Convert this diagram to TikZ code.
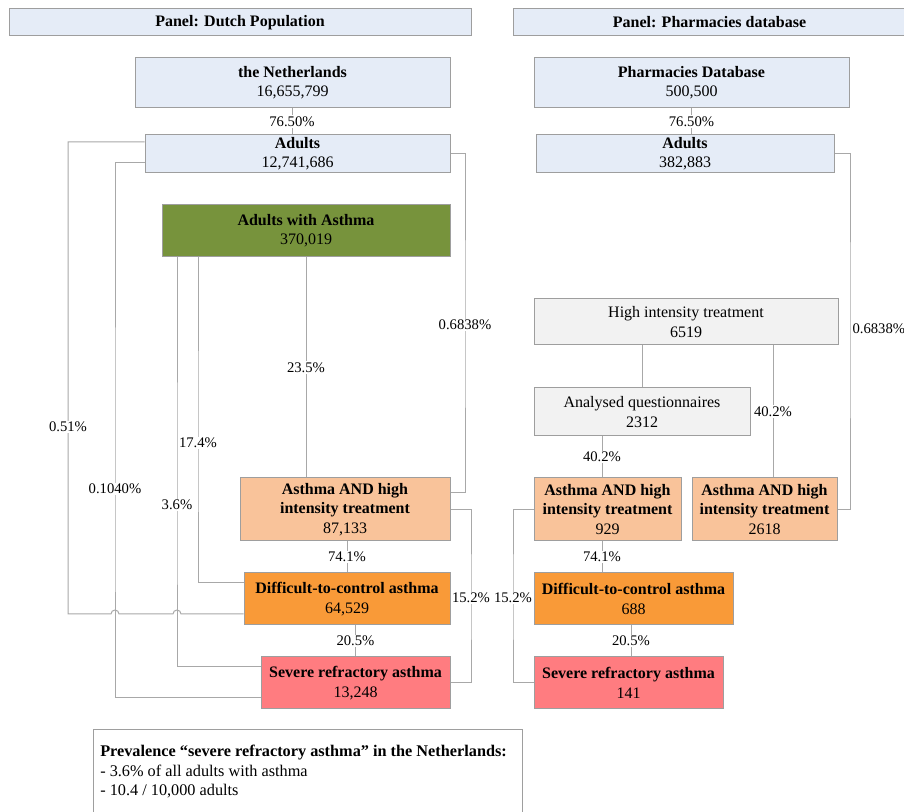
\documentclass[tikz,border=0pt]{standalone}
\usepackage{fontspec}
\setmainfont{Liberation Serif}
\usepackage{xcolor}
\usepackage{tikz}
\definecolor{popblue}{HTML}{E5ECF7}
\definecolor{framegray}{HTML}{9E9E9E}
\definecolor{linkgray}{HTML}{A8A8A8}
\definecolor{asthmagreen}{HTML}{77933C}
\definecolor{treatpeach}{HTML}{F9C39A}
\definecolor{difforange}{HTML}{F99A38}
\definecolor{severered}{HTML}{FF7C80}
\definecolor{querygray}{HTML}{F2F2F2}
\tikzset{
  boxnode/.style 2 args={rectangle,draw=framegray,line width=0.75pt,
    align=center,inner sep=1pt,minimum width=#1*0.75pt,
    minimum height=#2*0.75pt,font=\fontsize{12}{14.5}\selectfont},
  headnode/.style 2 args={boxnode={#1}{#2},fill=popblue},
  popnode/.style 2 args={boxnode={#1}{#2},fill=popblue},
  asthmanode/.style 2 args={boxnode={#1}{#2},fill=asthmagreen},
  treatnode/.style 2 args={boxnode={#1}{#2},fill=treatpeach},
  difficultnode/.style 2 args={boxnode={#1}{#2},fill=difforange},
  severenode/.style 2 args={boxnode={#1}{#2},fill=severered},
  querynode/.style 2 args={boxnode={#1}{#2},fill=querygray},
  link/.style={draw=linkgray,line width=0.75pt},
  ratelabel/.style={fill=white,inner sep=1pt,font=\fontsize{11}{13}\selectfont},
  prevframe/.style={rectangle,draw=framegray,line width=0.75pt,
    minimum width=429*0.75pt,minimum height=110*0.75pt},
  prevtext/.style={align=left,inner sep=0pt,font=\fontsize{12.2}{14.6}\selectfont}
}

\begin{document}
\begin{tikzpicture}[x=0.75pt,y=-0.75pt]
  \useasboundingbox (0,0) rectangle (904,812);

  \node[headnode={462}{27}] (hdrL) at (240,22.5) {\textbf{Panel: Dutch Population}};
  \node[headnode={393}{27}] (hdrR) at (709.5,22.5) {\textbf{Panel: Pharmacies database}};

  \node[popnode={315}{50}] (nl) at (292.5,83) {\textbf{the Netherlands}\\16,655,799};
  \node[popnode={305}{38}] (adL) at (297.5,154) {\textbf{Adults}\\12,741,686};
  \node[asthmanode={288}{52}] (asth) at (306,231) {\textbf{Adults with Asthma}\\370,019};
  \node[treatnode={210}{63}] (ahL) at (345,509.5)
    {\textbf{Asthma AND high}\\\textbf{intensity treatment}\\87,133};
  \node[difficultnode={206}{52}] (dcL) at (347,599) {\textbf{Difficult-to-control asthma}\\64,529};
  \node[severenode={189}{52}] (srL) at (355.5,683) {\textbf{Severe refractory asthma}\\13,248};

  \node[popnode={315}{50}] (pdb) at (691.5,83) {\textbf{Pharmacies Database}\\500,500};
  \node[popnode={298}{38}] (adR) at (685,154) {\textbf{Adults}\\382,883};
  \node[querynode={304}{46}] (hit) at (686,322) {High intensity treatment\\6519};
  \node[querynode={216}{48}] (aq) at (642,412) {Analysed questionnaires\\2312};
  \node[treatnode={147}{63}] (ahR) at (607.5,509.5)
    {\textbf{Asthma AND high}\\\textbf{intensity treatment}\\929};
  \node[treatnode={145}{63}] (ahRb) at (764.5,509.5)
    {\textbf{Asthma AND high}\\\textbf{intensity treatment}\\2618};
  \node[difficultnode={199}{52}] (dcR) at (633.5,599) {\textbf{Difficult-to-control asthma}\\688};
  \node[severenode={189}{52}] (srR) at (628.5,683) {\textbf{Severe refractory asthma}\\141};

  \node[prevframe,anchor=north west] (prevbox) at (93,729) {};
  \node[prevtext,anchor=north west] (prevtxt) at (100,745)
    {\textbf{Prevalence “severe refractory asthma” in the Netherlands:}\\
     - 3.6\% of all adults with asthma\\
     - 10.4 / 10,000 adults};

  \draw[link] (nl.south -| 292,0) -- node[ratelabel]{76.50\%} (adL.north -| 292,0);
  \draw[link] (pdb.south) -- node[ratelabel]{76.50\%} (pdb.south |- adR.north);

  \draw[link] (adL.west |- 0,142) -| (68,427) node[ratelabel]{0.51\%}
    -- (68,614) -- (111,614) arc[start angle=180,end angle=0,radius=3pt]
    -- (173,614) arc[start angle=180,end angle=0,radius=3pt]
    -- (dcL.west |- 0,614);
  \draw[link] (adL.west |- 0,163) -| (115,489) node[ratelabel]{0.1040\%}
    |- (srL.west |- 0,698);
  \draw[link] (adL.east) -| (465,325) node[ratelabel]{0.6838\%}
    |- (ahL.east |- 0,493);

  \draw[link] (asth.south -| 177,0) -- (177,505) node[ratelabel]{3.6\%}
    |- (srL.west |- 0,667);
  \draw[link] (asth.south -| 198,0) -- (198,443) node[ratelabel]{17.4\%}
    |- (dcL.west |- 0,583);
  \draw[link] (asth.south) -- node[ratelabel]{23.5\%} (asth.south |- ahL.north);

  \draw[link] (dcL.north |- ahL.south) -- node[ratelabel]{74.1\%} (dcL.north);
  \draw[link] (srL.north |- dcL.south) -- node[ratelabel]{20.5\%} (srL.north);
  \draw[link] (ahL.east) -| (471,598) node[ratelabel]{15.2\%} |- (srL.east);

  \draw[link] (adR.east) -| (850,329)
    node[ratelabel,fill=none,anchor=west,xshift=0.5pt]{0.6838\%} |- (ahRb.east);
  \draw[link] (aq.north |- hit.south) -- (aq.north);
  \draw[link] (hit.south -| 773,0) -- node[ratelabel]{40.2\%} (ahRb.north -| 773,0);
  \draw[link] (aq.south -| 602,0) -- node[ratelabel]{40.2\%} (ahR.north -| 602,0);
  \draw[link] (ahR.south -| 602,0) -- node[ratelabel]{74.1\%} (dcR.north -| 602,0);
  \draw[link] (dcR.south -| 631,0) -- node[ratelabel]{20.5\%} (srR.north -| 631,0);
  \draw[link] (ahR.west) -| (513,598) node[ratelabel]{15.2\%} |- (srR.west);
\end{tikzpicture}
\end{document}
